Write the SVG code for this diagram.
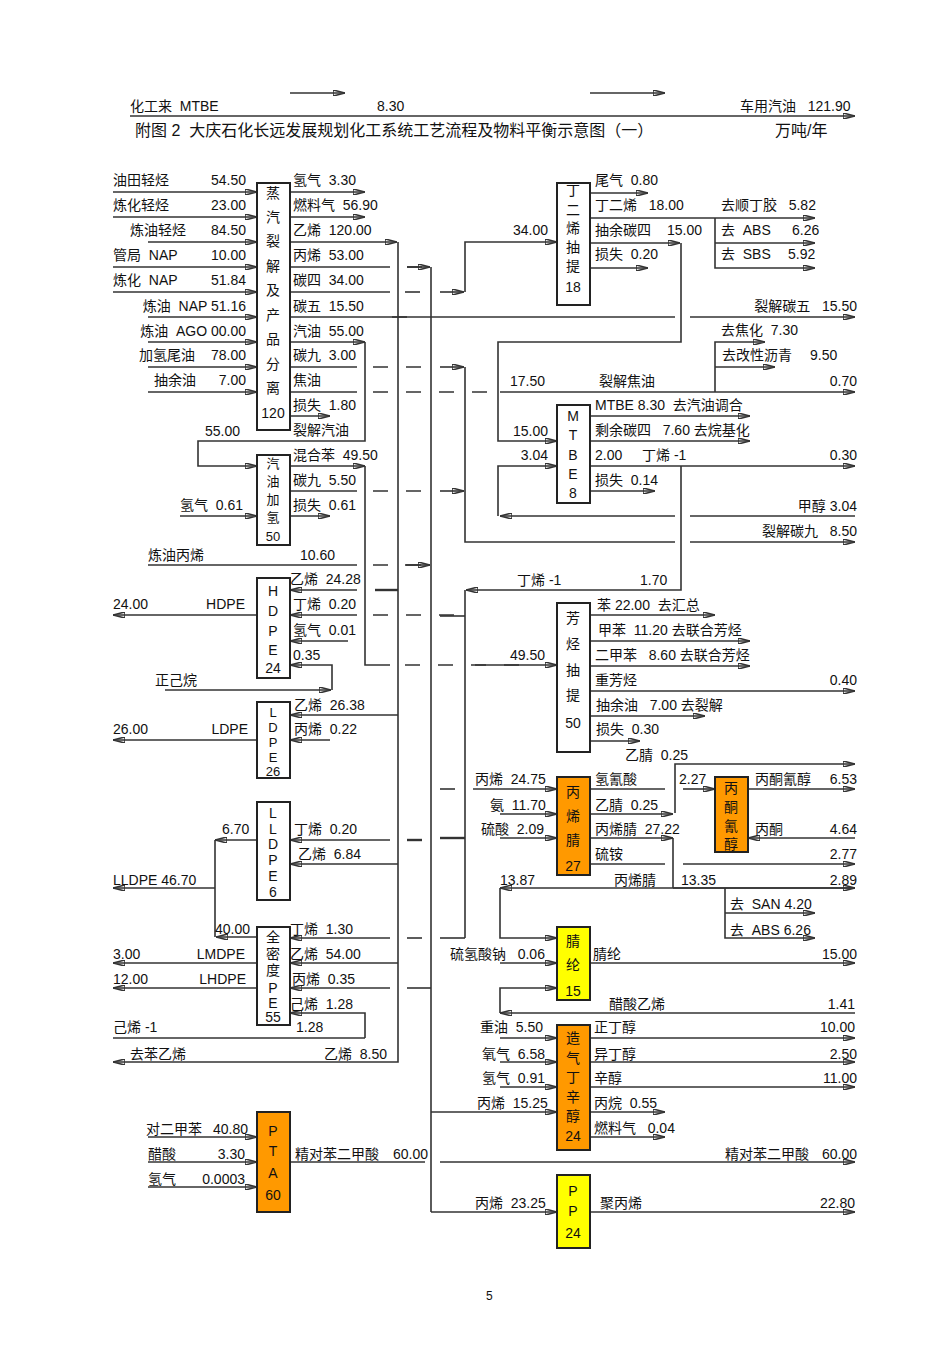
<svg xmlns="http://www.w3.org/2000/svg" width="950" height="1345" viewBox="0 0 950 1345">
<defs>
<marker id="ar" viewBox="0 0 12 6" refX="12" refY="3" markerWidth="12" markerHeight="6" orient="auto" markerUnits="userSpaceOnUse"><path d="M0,0 L12,3 L0,6 Z" fill="#111"/></marker>
<style>
text{font-family:"Liberation Sans","Noto Sans CJK SC",sans-serif;font-size:14px;fill:#111;white-space:pre}
.vt{text-anchor:middle}
.sm{font-size:13px}
.r{text-anchor:end}
path{fill:none;stroke:#333;stroke-width:1.6}
.a{marker-end:url(#ar)}
.d{stroke-dasharray:15 18}
.box{fill:#fff;stroke:#222;stroke-width:2}
.or{fill:#FF9900;stroke:#222;stroke-width:2}
.ye{fill:#FFFF00;stroke:#222;stroke-width:2}
</style>
</defs>
<rect width="950" height="1345" fill="#fff"/>
<g id="header">
<text x="130" y="111">化工来  MTBE</text>
<text x="377" y="111">8.30</text>
<text x="740" y="111">车用汽油   121.90</text>
<text x="135" y="136" style="font-size:16px">附图 2  大庆石化长远发展规划化工系统工艺流程及物料平衡示意图（一）</text>
<text x="775" y="136" style="font-size:16px">万吨/年</text>
<text x="486" y="1300" style="font-size:12px">5</text>
</g>
<g id="connectors">
<path class="a" d="M290 93 H345"/><path class="a" d="M590 93 H665"/>
<path class="a" d="M130 116 H855"/>
<path class="a" d="M113 192 H257"/><path class="a" d="M113 217 H257"/><path class="a" d="M148 242 H257"/>
<path class="a" d="M113 267 H257"/><path class="a" d="M113 292 H257"/><path class="a" d="M148 317 H257"/>
<path class="a" d="M148 342 H257"/><path class="a" d="M148 367 H257"/><path class="a" d="M148 392 H257"/>
<path class="a" d="M290 192 H365"/><path class="a" d="M290 217 H365"/>
<path class="a" d="M290 242 H397"/><path d="M398 242 V1062 H113" class="a"/>
<path d="M290 267 H390"/><path class="d" d="M407 267 H425"/><path class="a" d="M407 267 H430"/><path d="M431 267 V1212"/>
<path d="M290 292 H390"/><path class="d" d="M405 292 H425"/><path class="a" d="M440 292 H464"/><path class="a" d="M465 292 V242 H557"/>
<path d="M290 317 H675"/><path class="d" d="M392 317 H420"/><path class="a" d="M690 317 H855"/>
<path class="a" d="M290 342 H365"/><path class="a" d="M365 342 V441 H198 V466 H257"/>
<path d="M290 367 H357"/><path class="d" d="M373 367 H425"/><path class="a" d="M440 367 H464"/><path d="M465 367 V542 H675"/><path class="a" d="M690 542 H855"/>
<path d="M290 392 H357"/><path class="d" d="M373 392 H495"/><path class="a" d="M500 392 H855"/>
<path class="a" d="M715 392 V342 H765"/><path class="a" d="M715 367 H775"/>
<path class="a" d="M290 416 H330"/>
<path class="a" d="M590 193 H648"/><path class="a" d="M590 218 H815"/><path class="a" d="M715 218 V268 H815"/><path class="a" d="M715 243 H815"/>
<path class="a" d="M590 243 H680"/><path class="a" d="M681 243 V342 H498 V441 H557"/><path class="a" d="M590 268 H648"/>
<path class="a" d="M590 416 H750"/><path class="a" d="M590 441 H750"/><path class="a" d="M590 466 H855"/><path class="a" d="M590 491 H655"/>
<path class="a" d="M675 516 H500"/><path class="a" d="M498 516 V466 H557"/><path d="M690 516 H855"/>
<path class="a" d="M681 466 V590 H466"/><path d="M465 590 V938"/>
<path class="a" d="M290 466 H365"/><path d="M365 466 V665 H390"/><path class="d" d="M405 665 H530"/><path class="a" d="M475 665 H557"/>
<path d="M290 491 H357"/><path class="d" d="M373 491 H425"/><path class="a" d="M440 491 H464"/>
<path class="a" d="M290 516 H330"/><path class="a" d="M180 516 H257"/>
<path d="M148 565 H357"/><path class="d" d="M373 565 H425"/><path class="a" d="M405 565 H430"/>
<path class="a" d="M357 590 H290"/><path d="M375 590 H398" style="stroke-width:2.4"/>
<path class="a" d="M357 615 H290"/><path class="d" d="M373 615 H465"/>
<path class="a" d="M348 641 H290"/><path class="a" d="M332 690 V665 H290"/><path class="a" d="M165 690 H331"/>
<path class="a" d="M257 615 H113"/>
<path class="a" d="M398 715 H290"/><path class="a" d="M330 740 H290"/><path class="a" d="M257 740 H113"/>
<path class="a" d="M590 615 H715"/><path class="a" d="M590 641 H750"/><path class="a" d="M590 666 H750"/><path class="a" d="M590 691 H855"/><path class="a" d="M590 716 H705"/><path class="a" d="M590 741 H640"/>
<path d="M440 616 H465"/><path d="M440 789 H455"/><path d="M440 838 H465" style="stroke-width:2.4"/><path d="M440 938 H465"/>
<path class="a" d="M473 789 H557"/><path class="a" d="M500 814 H557"/><path class="a" d="M500 838 H557"/>
<path d="M590 789 H665"/><path class="a" d="M590 814 H673"/><path class="a" d="M675 813 V764 H855"/>
<path class="a" d="M590 838 H673"/><path d="M673 838 V888"/><path d="M590 864 H665"/>
<path class="a" d="M855 888 H500"/><path class="a" d="M673 888 H855"/><path class="a" d="M725 888 V938 H815"/><path class="a" d="M725 913 H815"/>
<path class="a" d="M683 789 H715"/><path class="a" d="M748 789 H855"/><path class="a" d="M855 838 H748"/><path class="a" d="M683 864 H855"/>
<path class="a" d="M390 840 H290"/><path class="d" d="M407 840 H423" style="stroke-width:2.4"/><path class="a" d="M398 864 H290"/>
<path class="a" d="M257 840 H215"/><path d="M215 840 V937"/><path class="a" d="M215 888 H113"/><path class="a" d="M257 937 H216"/>
<path class="a" d="M390 938 H290"/><path class="d" d="M407 938 H423"/><path class="a" d="M398 963 H290"/>
<path class="a" d="M390 988 H290"/><path d="M407 988 H431"/>
<path class="a" d="M257 963 H113"/><path class="a" d="M257 988 H113"/>
<path class="a" d="M365 1038 V1013 H290"/><path d="M113 1038 H365"/>
<path class="a" d="M500 888 V938 H557"/><path class="a" d="M500 963 H557"/><path class="a" d="M590 963 H855"/>
<path class="a" d="M855 1013 H500"/><path class="a" d="M500 1013 V988 H557"/>
<path class="a" d="M500 1038 H557"/><path class="a" d="M500 1062 H557"/><path class="a" d="M500 1087 H557"/><path class="a" d="M431 1112 H557"/>
<path class="a" d="M590 1038 H855"/><path class="a" d="M590 1062 H855"/><path class="a" d="M590 1087 H855"/><path class="a" d="M590 1112 H665"/><path class="a" d="M590 1137 H665"/>
<path class="a" d="M148 1137 H257"/><path class="a" d="M148 1162 H257"/><path class="a" d="M148 1187 H257"/>
<path d="M290 1162 H425"/><path class="a" d="M440 1162 H855"/>
<path class="a" d="M431 1212 H557"/><path class="a" d="M590 1212 H855"/>
</g>
<g id="steam">
<rect class="box" x="257" y="183" width="33" height="247"/>
<text class="vt" x="273" y="198">蒸</text><text class="vt" x="273" y="222">汽</text><text class="vt" x="273" y="246">裂</text><text class="vt" x="273" y="271">解</text><text class="vt" x="273" y="295">及</text><text class="vt" x="273" y="320">产</text><text class="vt" x="273" y="344">品</text><text class="vt" x="273" y="369">分</text><text class="vt" x="273" y="393">离</text><text class="vt" x="273" y="418">120</text>
<text x="113" y="185">油田轻烃</text><text class="r" x="246" y="185">54.50</text>
<text x="113" y="210">炼化轻烃</text><text class="r" x="246" y="210">23.00</text>
<text x="130" y="235">炼油轻烃</text><text class="r" x="246" y="235">84.50</text>
<text x="113" y="260">管局  NAP</text><text class="r" x="246" y="260">10.00</text>
<text x="113" y="285">炼化  NAP</text><text class="r" x="246" y="285">51.84</text>
<text class="r" x="246" y="311">炼油  NAP 51.16</text>
<text class="r" x="246" y="336">炼油  AGO 00.00</text>
<text x="139" y="360">加氢尾油</text><text class="r" x="246" y="360">78.00</text>
<text x="154" y="385">抽余油</text><text class="r" x="246" y="385">7.00</text>
<text x="293" y="185">氢气  3.30</text><text x="293" y="210">燃料气  56.90</text><text x="293" y="235">乙烯  120.00</text>
<text x="293" y="260">丙烯  53.00</text><text x="293" y="285">碳四  34.00</text><text x="293" y="311">碳五  15.50</text>
<text x="293" y="336">汽油  55.00</text><text x="293" y="360">碳九  3.00</text><text x="293" y="385">焦油</text>
<text x="293" y="410">损失  1.80</text><text x="293" y="435">裂解汽油</text><text x="205" y="436">55.00</text>
</g>
<g id="hydro">
<rect class="box" x="257" y="455" width="33" height="90"/>
<text class="vt sm" x="273" y="468">汽</text><text class="vt sm" x="273" y="486">油</text><text class="vt sm" x="273" y="504">加</text><text class="vt sm" x="273" y="522">氢</text><text class="vt sm" x="273" y="541">50</text>
<text x="293" y="460">混合苯  49.50</text><text x="293" y="485">碳九  5.50</text><text x="293" y="510">损失  0.61</text>
<text x="180" y="510">氢气  0.61</text><text x="148" y="560">炼油丙烯</text><text x="300" y="560">10.60</text>
</g>
<g id="hpde">
<rect class="box" x="257" y="578" width="33" height="100"/>
<text class="vt" x="273" y="596">H</text><text class="vt" x="273" y="616">D</text><text class="vt" x="273" y="636">P</text><text class="vt" x="273" y="655">E</text><text class="vt" x="273" y="673">24</text>
<text x="290" y="584">乙烯  24.28</text><text x="293" y="609">丁烯  0.20</text><text x="293" y="635">氢气  0.01</text><text x="293" y="660">0.35</text>
<text x="113" y="609">24.00</text><text class="r" x="245" y="609">HDPE</text><text x="155" y="685">正己烷</text>
</g>
<g id="ldpe">
<rect class="box" x="257" y="702" width="33" height="76"/>
<text class="vt sm" x="273" y="717">L</text><text class="vt sm" x="273" y="732">D</text><text class="vt sm" x="273" y="747">P</text><text class="vt sm" x="273" y="762">E</text><text class="vt sm" x="273" y="776">26</text>
<text x="294" y="710">乙烯  26.38</text><text x="294" y="734">丙烯  0.22</text><text x="113" y="734">26.00</text><text class="r" x="248" y="734">LDPE</text>
</g>
<g id="lldpe">
<rect class="box" x="257" y="802" width="33" height="98"/>
<text class="vt" x="273" y="818">L</text><text class="vt" x="273" y="834">L</text><text class="vt" x="273" y="849">D</text><text class="vt" x="273" y="865">P</text><text class="vt" x="273" y="881">E</text><text class="vt" x="273" y="897">6</text>
<text x="294" y="834">丁烯  0.20</text><text x="298" y="859">乙烯  6.84</text><text x="222" y="834">6.70</text><text x="113" y="885">LLDPE 46.70</text>
</g>
<g id="fdpe">
<rect class="box" x="257" y="927" width="33" height="98"/>
<text class="vt" x="273" y="942">全</text><text class="vt" x="273" y="959">密</text><text class="vt" x="273" y="975">度</text><text class="vt" x="273" y="993">P</text><text class="vt" x="273" y="1008">E</text><text class="vt" x="273" y="1022">55</text>
<text x="215" y="934">40.00</text><text x="290" y="934">丁烯  1.30</text><text x="290" y="959">乙烯  54.00</text><text x="292" y="984">丙烯  0.35</text>
<text x="290" y="1009">己烯  1.28</text><text x="296" y="1032">1.28</text>
<text x="113" y="959">3.00</text><text class="r" x="245" y="959">LMDPE</text><text x="113" y="984">12.00</text><text class="r" x="246" y="984">LHDPE</text>
<text x="113" y="1032">己烯 -1</text><text x="130" y="1059">去苯乙烯</text><text x="324" y="1059">乙烯  8.50</text>
</g>
<g id="pta">
<rect class="or" x="257" y="1112" width="33" height="100"/>
<text class="vt" x="273" y="1136">P</text><text class="vt" x="273" y="1156">T</text><text class="vt" x="273" y="1178">A</text><text class="vt" x="273" y="1200">60</text>
<text x="146" y="1134">对二甲苯</text><text class="r" x="248" y="1134">40.80</text><text x="148" y="1159">醋酸</text><text class="r" x="245" y="1159">3.30</text>
<text x="148" y="1184">氢气</text><text class="r" x="245" y="1184">0.0003</text><text x="295" y="1159">精对苯二甲酸</text><text x="393" y="1159">60.00</text>
</g>
<g id="butadiene">
<rect class="box" x="557" y="183" width="33" height="122"/>
<text class="vt" x="573" y="195">丁</text><text class="vt" x="573" y="215">二</text><text class="vt" x="573" y="233">烯</text><text class="vt" x="573" y="252">抽</text><text class="vt" x="573" y="271">提</text><text class="vt" x="573" y="292">18</text>
<text class="r" x="548" y="235">34.00</text>
<text x="595" y="185">尾气  0.80</text><text x="595" y="210">丁二烯   18.00</text><text x="595" y="235">抽余碳四</text><text x="667" y="235">15.00</text><text x="595" y="259">损失  0.20</text>
<text x="721" y="210">去顺丁胶   5.82</text><text x="721" y="235">去  ABS</text><text x="792" y="235">6.26</text><text x="721" y="259">去  SBS</text><text x="788" y="259">5.92</text>
<text class="r" x="857" y="311">裂解碳五   15.50</text><text x="721" y="335">去焦化  7.30</text><text x="722" y="360">去改性沥青</text><text x="810" y="360">9.50</text>
<text x="510" y="386">17.50</text><text x="599" y="386">裂解焦油</text><text class="r" x="857" y="386">0.70</text>
</g>
<g id="mtbe">
<rect class="box" x="557" y="405" width="33" height="98"/>
<text class="vt" x="573" y="421">M</text><text class="vt" x="573" y="440">T</text><text class="vt" x="573" y="460">B</text><text class="vt" x="573" y="479">E</text><text class="vt" x="573" y="498">8</text>
<text class="r" x="548" y="436">15.00</text><text class="r" x="548" y="460">3.04</text>
<text x="595" y="410">MTBE 8.30  去汽油调合</text><text x="595" y="435">剩余碳四   7.60 去烷基化</text><text x="595" y="460">2.00</text><text x="642" y="460">丁烯 -1</text><text class="r" x="857" y="460">0.30</text>
<text x="595" y="485">损失  0.14</text><text class="r" x="857" y="511">甲醇 3.04</text><text class="r" x="857" y="536">裂解碳九   8.50</text>
<text x="517" y="585">丁烯 -1</text><text x="640" y="585">1.70</text>
</g>
<g id="aromatics">
<rect class="box" x="557" y="603" width="33" height="149"/>
<text class="vt" x="573" y="623">芳</text><text class="vt" x="573" y="649">烃</text><text class="vt" x="573" y="675">抽</text><text class="vt" x="573" y="700">提</text><text class="vt" x="573" y="728">50</text>
<text class="r" x="545" y="660">49.50</text>
<text x="597" y="610">苯 22.00  去汇总</text><text x="598" y="635">甲苯  11.20 去联合芳烃</text><text x="595" y="660">二甲苯   8.60 去联合芳烃</text>
<text x="595" y="685">重芳烃</text><text class="r" x="857" y="685">0.40</text><text x="596" y="710">抽余油   7.00 去裂解</text><text x="596" y="734">损失  0.30</text>
<text x="625" y="760">乙腈  0.25</text>
</g>
<g id="acrylonitrile">
<rect class="or" x="557" y="777" width="33" height="98"/>
<text class="vt" x="573" y="797">丙</text><text class="vt" x="573" y="821">烯</text><text class="vt" x="573" y="845">腈</text><text class="vt" x="573" y="871">27</text>
<text x="475" y="784">丙烯  24.75</text><text x="490" y="810">氨  11.70</text><text x="481" y="834">硫酸  2.09</text>
<text x="595" y="784">氢氰酸</text><text x="595" y="810">乙腈  0.25</text><text x="595" y="834">丙烯腈  27.22</text><text x="595" y="859">硫铵</text>
<text x="500" y="885">13.87</text><text x="614" y="885">丙烯腈</text><text x="681" y="885">13.35</text><text class="r" x="857" y="885">2.89</text>
<text x="730" y="909">去  SAN 4.20</text><text x="730" y="935">去  ABS 6.26</text>
</g>
<g id="acetone">
<rect class="or" x="715" y="777" width="33" height="75"/>
<text class="vt" x="731" y="793">丙</text><text class="vt" x="731" y="812">酮</text><text class="vt" x="731" y="831">氰</text><text class="vt" x="731" y="849">醇</text>
<text x="679" y="784">2.27</text><text x="755" y="784">丙酮氰醇</text><text class="r" x="857" y="784">6.53</text>
<text x="755" y="834">丙酮</text><text class="r" x="857" y="834">4.64</text><text class="r" x="857" y="859">2.77</text>
</g>
<g id="fiber">
<rect class="ye" x="557" y="927" width="33" height="73"/>
<text class="vt" x="573" y="946">腈</text><text class="vt" x="573" y="970">纶</text><text class="vt" x="573" y="996">15</text>
<text x="450" y="959">硫氢酸钠   0.06</text><text x="593" y="959">腈纶</text><text class="r" x="857" y="959">15.00</text>
<text x="609" y="1009">醋酸乙烯</text><text class="r" x="855" y="1009">1.41</text>
</g>
<g id="butanol">
<rect class="or" x="557" y="1025" width="33" height="125"/>
<text class="vt" x="573" y="1043">造</text><text class="vt" x="573" y="1063">气</text><text class="vt" x="573" y="1082">丁</text><text class="vt" x="573" y="1102">辛</text><text class="vt" x="573" y="1121">醇</text><text class="vt" x="573" y="1141">24</text>
<text x="480" y="1032">重油  5.50</text><text x="482" y="1059">氧气  6.58</text><text x="482" y="1083">氢气  0.91</text><text x="477" y="1108">丙烯  15.25</text>
<text x="594" y="1032">正丁醇</text><text class="r" x="855" y="1032">10.00</text><text x="594" y="1059">异丁醇</text><text class="r" x="857" y="1059">2.50</text>
<text x="594" y="1083">辛醇</text><text class="r" x="857" y="1083">11.00</text><text x="594" y="1108">丙烷  0.55</text><text x="594" y="1133">燃料气   0.04</text>
<text x="725" y="1159">精对苯二甲酸</text><text class="r" x="857" y="1159">60.00</text>
</g>
<g id="pp">
<rect class="ye" x="557" y="1175" width="33" height="73"/>
<text class="vt" x="573" y="1196">P</text><text class="vt" x="573" y="1216">P</text><text class="vt" x="573" y="1238">24</text>
<text x="475" y="1208">丙烯  23.25</text><text x="600" y="1208">聚丙烯</text><text class="r" x="855" y="1208">22.80</text>
</g>
</svg>
